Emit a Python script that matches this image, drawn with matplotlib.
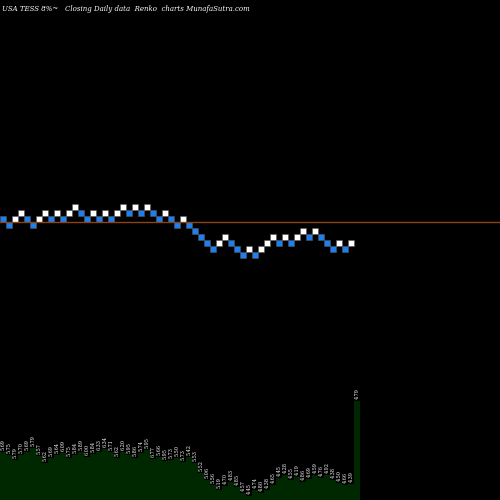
import matplotlib
matplotlib.use("Agg")
import matplotlib.pyplot as plt
from matplotlib.patches import Rectangle

levels = [2,3,2,1,2,3,2,1,2,1,2,1,0,1,2,1,2,1,2,1,0,1,0,1,0,1,2,1,2,3,
          2,3,4,5,6,7,6,5,6,7,8,7,8,7,6,5,6,5,6,5,4,5,4,5,6,7,6,7,6]
volumes = [48,45,40,45,48,52,44,37,42,45,47,42,45,48,43,46,48,51,48,42,
           48,45,42,47,50,41,43,39,40,42,38,43,37,27,20,15,10,14,18,13,
           7,4,10,7,10,15,22,25,20,23,18,21,25,22,25,20,17,15,16,99]
labels = ["5.69","5.75","5.79","5.70","5.69","5.79","5.57","5.62","5.69","5.64",
          "6.09","5.75","5.84","5.89","6.00","5.84","6.33","6.34","5.71","5.62",
          "6.20","5.95","5.86","5.74","5.95","6.77","5.66","5.95","5.73","5.50",
          "5.73","5.42","5.53","5.52","5.06","5.56","5.19","4.70","4.83","4.85",
          "4.57","4.45","4.74","4.80","4.38","4.65","4.45","4.28","4.55","4.19",
          "4.86","4.69","4.59","4.76","4.92","4.38","4.50","4.66","4.39","4.79"]

fig = plt.figure(figsize=(5, 5), dpi=100, facecolor="black")
ax = fig.add_axes([0, 0, 1, 1])
ax.set_facecolor("black")
ax.set_xlim(0, 500 / 6)
ax.set_ylim(500 / 6, 0)
ax.axis("off")

ax.axhline(37, color="#8B4513", lw=1)
prev = None
for i, L in enumerate(levels):
    up = prev is not None and L < prev
    c = "white" if up else "#1e7ff0"
    ax.add_patch(Rectangle((i + 0.04, 34 + L + 0.04), 0.92, 0.92, facecolor=c,
                           edgecolor="#555555", lw=0.4))
    prev = L

vax = fig.add_axes([0, 0, 1, 0.24])
vax.set_facecolor("none")
vax.set_xlim(0, 500 / 6)
vax.set_ylim(0, 120)
vax.axis("off")
for i, v in enumerate(volumes):
    vax.bar(i, v, width=1.0, align="edge", color="#002800", lw=0)
    vax.text(i + 0.5, v + 2, labels[i], rotation=90, color="white",
             fontsize=3.5, ha="center", va="bottom", family="DejaVu Serif")

fig.text(0.005, 0.99, "USA TESS 8%~   Closing Daily data  Renko  charts MunafaSutra.com",
         color="white", fontsize=5, family="DejaVu Serif", style="italic",
         ha="left", va="top")
fig.savefig("out.png", dpi=100, facecolor="black")
